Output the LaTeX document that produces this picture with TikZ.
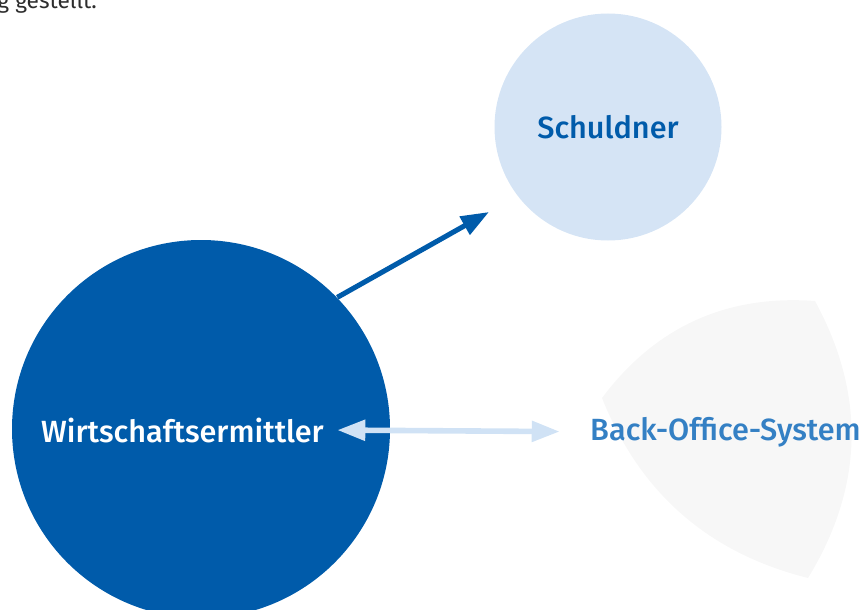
\documentclass[tikz,border=0pt]{standalone}
\usepackage{fontspec}
\setmainfont{Fira Sans}[UprightFont={* Medium}]
\newfontfamily\plainfont{Fira Sans}
\usetikzlibrary{arrows.meta}

\tikzset{every picture/.style={line width=0.75pt}}

\begin{document}
\begin{tikzpicture}[x=0.75pt,y=0.75pt,yscale=-1,xscale=1,
  roundnode/.style={circle, draw=none, inner sep=0pt},
  label text/.style={inner sep=0pt, font=\fontsize{23}{27}\selectfont},
  darkarrow/.style={draw={rgb, 255:red, 0; green, 91; blue, 170}, line width=3.8pt, -{Triangle[length=21pt, width=15pt]}},
  lightarrow/.style={draw={rgb, 255:red, 208; green, 226; blue, 245}, line width=4.2pt, {Triangle[length=21pt, width=15pt]}-{Triangle[length=21pt, width=15pt]}}]
\useasboundingbox (0,0) rectangle (867,610);

% Text Node
\node [anchor=base west, inner sep=0pt, text={rgb, 255:red, 45; green, 45; blue, 45}, font=\plainfont\fontsize{17}{20}\selectfont] (cut) at (-3,9) {g gestellt.};

%Shape: Back-Office area
\draw [draw=none, fill={rgb, 255:red, 247; green, 247; blue, 247}] (815,301) .. controls (726.3,294.5) and (655.3,326.9) .. (602,398) .. controls (639.9,493.1) and (708.6,553.1) .. (808,578) .. controls (863.7,487) and (866,394.7) .. (815,301) -- cycle ;

%Shape: Circle
\node [roundnode, fill={rgb, 255:red, 0; green, 91; blue, 170}, minimum size=283.5pt] (wmc) at (201,429) {};
%Shape: Circle
\node [roundnode, fill={rgb, 255:red, 213; green, 228; blue, 245}, minimum size=170.25pt, label text, text={rgb, 255:red, 0; green, 91; blue, 170}] (sch) at (608,127) {Schuldner};

% Text Node
\node [label text, anchor=base, text=white] (wm) at (182.5,442) {Wirtschaftsermittler};
% Text Node
\node [label text, anchor=base, text={rgb, 255:red, 52; green, 128; blue, 196}] (bo) at (725.5,440) {Back-Office-System};

\coordinate (tip) at (489,212);
%Straight Lines
\draw [darkarrow] (wmc.44) -- (tip) ;
%Straight Lines
\draw [lightarrow, shorten <=9.75pt, shorten >=22.5pt] (wm.east) -- (bo.west) ;

\end{tikzpicture}
\end{document}
